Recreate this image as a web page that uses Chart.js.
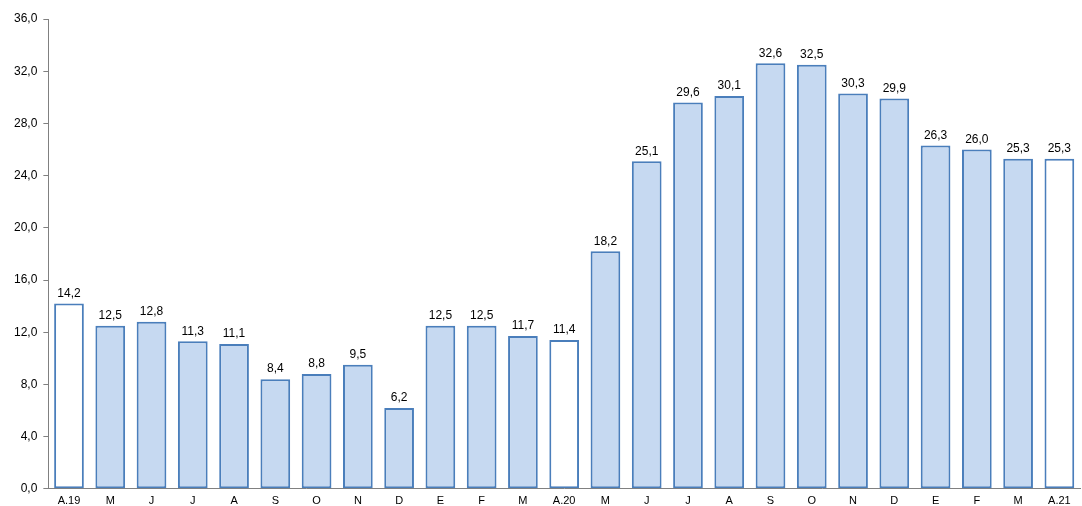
<!DOCTYPE html>
<html><head><meta charset="utf-8">
<script src="https://cdn.jsdelivr.net/npm/chart.js@4"></script>
<style>html,body{margin:0;background:#fff}#c{width:1082px;height:506px}</style>
</head><body><div id="c"><canvas id="chart"></canvas></div>
<script>
const labels = ['A.19','M','J','J','A','S','O','N','D','E','F','M','A.20','M','J','J','A','S','O','N','D','E','F','M','A.21'];
const values = [14.2,12.5,12.8,11.3,11.1,8.4,8.8,9.5,6.2,12.5,12.5,11.7,11.4,18.2,25.1,29.6,30.1,32.6,32.5,30.3,29.9,26.3,26.0,25.3,25.3];
const whiteIdx = [0,12,24];

const valueLabels = {
  id: 'valueLabels',
  afterDatasetsDraw(chart) {
    const ctx = chart.ctx;
    ctx.save();
    ctx.font = '12px "Liberation Sans", Arial';
    ctx.fillStyle = '#000';
    ctx.textAlign = 'center';
    ctx.textBaseline = 'bottom';
    chart.getDatasetMeta(0).data.forEach((bar, i) => {
      ctx.fillText(values[i].toFixed(1).replace('.', ','), bar.x, bar.y - 4);
    });
    ctx.restore();
  }
};

new Chart(document.getElementById('chart'), {
  type: 'bar',
  data: {
    labels: labels,
    datasets: [{
      data: values,
      backgroundColor: values.map((v, i) => whiteIdx.includes(i) ? '#ffffff' : '#c6d9f1'),
      borderColor: '#4a7ebb',
      borderWidth: 2,
      borderSkipped: false,
      categoryPercentage: 0.72,
      barPercentage: 1
    }]
  },
  options: {
    responsive: true,
    maintainAspectRatio: false,
    animation: false,
    layout: { padding: { top: 19, right: 2, left: 8, bottom: 0 } },
    plugins: { legend: { display: false }, tooltip: { enabled: false } },
    scales: {
      x: {
        grid: { display: false },
        border: { color: '#808080' },
        ticks: { color: '#000', font: { size: 11, family: '"Liberation Sans", Arial' }, autoSkip: false, maxRotation: 0, padding: -2 }
      },
      y: {
        min: 0, max: 36,
        grid: { drawOnChartArea: false, tickLength: 5, color: '#808080' },
        border: { color: '#808080' },
        ticks: {
          stepSize: 4, color: '#000', padding: 6,
          font: { size: 12, family: '"Liberation Sans", Arial' },
          callback: v => v.toFixed(1).replace('.', ',')
        }
      }
    }
  },
  plugins: [valueLabels]
});
</script></body></html>
